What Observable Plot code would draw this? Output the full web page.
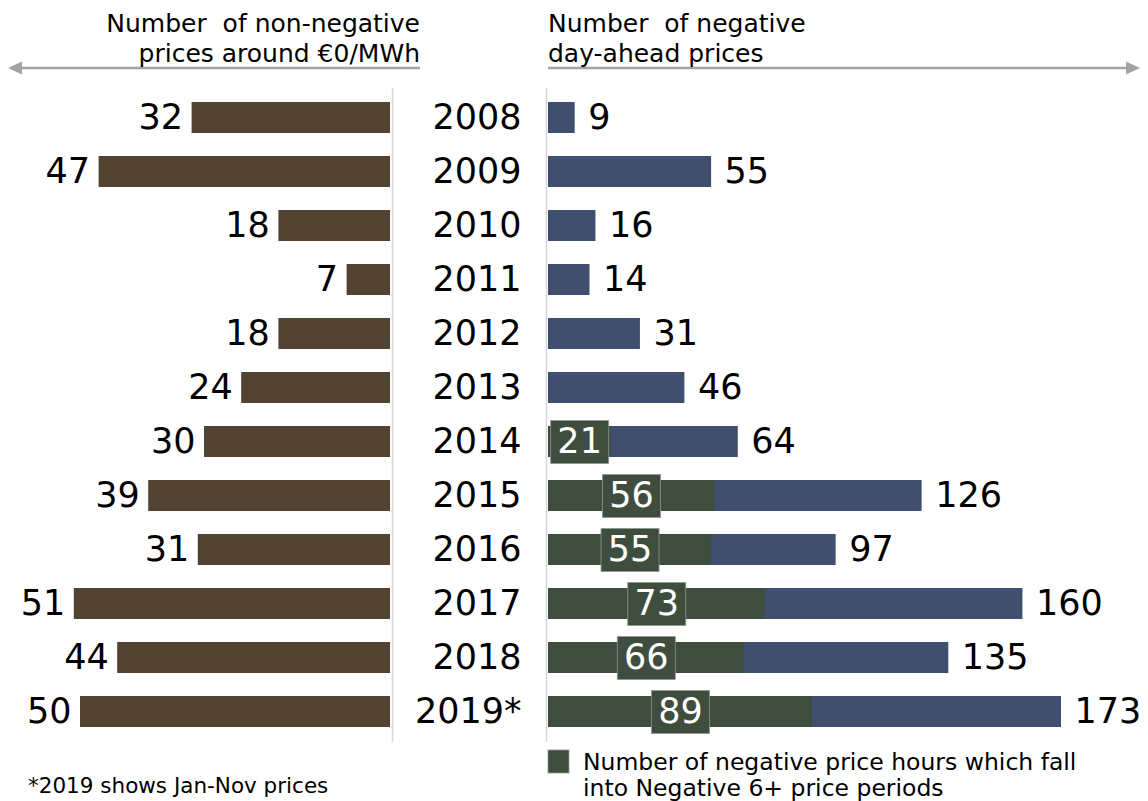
<!DOCTYPE html>
<html><head><meta charset="utf-8">
<script src="https://cdn.jsdelivr.net/npm/d3@7"></script>
<script src="https://cdn.jsdelivr.net/npm/@observablehq/plot@0.6"></script>
<style>
body{margin:0;background:#fff;font-family:"DejaVu Sans",Verdana,sans-serif;}
#wrap{position:relative;width:1148px;height:801px;overflow:hidden;background:#fff}
#wrap > svg{position:absolute;left:0;top:0}
</style></head><body><div id="wrap"></div>
<script>
// ---- data ----
const years = ["2008","2009","2010","2011","2012","2013","2014","2015","2016","2017","2018","2019*"];
const nonNegative = [32,47,18,7,18,24,30,39,31,51,44,50];
const negative = [9,55,16,14,31,46,64,126,97,160,135,173];
const negative6 = [null,null,null,null,null,null,21,56,55,73,66,89];
const leftTitle = ["Number  of non-negative","prices around €0/MWh"];
const rightTitle = ["Number  of negative","day-ahead prices"];
const legendLines = ["Number of negative price hours which fall","into Negative 6+ price periods"];
const footnote = "*2019 shows Jan-Nov prices";

const brown = "#514231", blue = "#404f6e", green = "#3f4d3e";
const font = "DejaVu Sans, Verdana, sans-serif";
const big = 35;
const rows = years.map((y,i)=>({year:y, nonNeg:nonNegative[i], neg:negative[i], neg6:negative6[i]}));
const rows6 = rows.filter(d=>d.neg6!=null);
const yOpts = {domain: years, range:[76,753], padding:0.43, axis:null};
const common = {width:1148, height:801, marginTop:88, marginBottom:59,
  style:{fontFamily:font, background:"transparent", overflow:"visible"}};

const wrap = document.getElementById("wrap");

const left = Plot.plot({...common, marginLeft:0, marginRight:0,
  x:{domain:[0,50], range:[390,80], axis:null},
  y:yOpts,
  marks:[
    Plot.ruleX([0],{dx:2, stroke:"#d6d6d6", strokeWidth:1.5}),
    Plot.barX(rows,{x:"nonNeg", y:"year", fill:brown}),
    Plot.text(rows,{x:"nonNeg", y:"year", text:d=>String(d.nonNeg), textAnchor:"end", dx:-9, fontSize:big, fill:"#000"})
  ]});
wrap.appendChild(left);

const boxSymbol = {draw(ctx){ ctx.rect(-29,-21.5,58,43); }};
const right = Plot.plot({...common, marginLeft:548, marginRight:0,
  x:{domain:[0,173], range:[548,1061], axis:null},
  y:yOpts,
  marks:[
    Plot.ruleX([0],{dx:-2, stroke:"#d6d6d6", strokeWidth:1.5}),
    Plot.axisY({anchor:"left", tickSize:0, tickPadding:27, fontSize:big, label:null, fill:"#000"}),
    Plot.barX(rows,{x:"neg", y:"year", fill:blue}),
    Plot.barX(rows6,{x:"neg6", y:"year", fill:green}),
    Plot.dot(rows6,{x:d=>d.neg6/2, y:"year", symbol:boxSymbol, fill:green, stroke:"#8c988b", strokeWidth:0.8}),
    Plot.text(rows6,{x:d=>d.neg6/2, y:"year", text:d=>String(d.neg6), fill:"#fff", fontSize:big}),
    Plot.text(rows,{x:"neg", y:"year", text:d=>String(d.neg), textAnchor:"start", dx:13, fontSize:big, fill:"#000"})
  ]});
wrap.appendChild(right);

// ---- decorations: headers, arrows, legend, footnote ----
const svg = d3.select(wrap).append("svg").attr("width",1148).attr("height",801)
  .style("font-family",font);
const g = "#a3a3a3";
svg.append("line").attr("x1",420).attr("x2",20).attr("y1",68).attr("y2",68).attr("stroke",g).attr("stroke-width",2.5);
svg.append("path").attr("d","M8,68L22,61.5L22,74.5Z").attr("fill",g);
svg.append("line").attr("x1",548).attr("x2",1126).attr("y1",68).attr("y2",68).attr("stroke",g).attr("stroke-width",2.5);
svg.append("path").attr("d","M1140,68L1126,61.5L1126,74.5Z").attr("fill",g);
leftTitle.forEach((t,i)=>svg.append("text").attr("x",420).attr("y",32+i*30).attr("text-anchor","end")
  .attr("font-size",25).style("white-space","pre").attr("xml:space","preserve").text(t));
rightTitle.forEach((t,i)=>svg.append("text").attr("x",548).attr("y",32+i*30)
  .attr("font-size",25).style("white-space","pre").attr("xml:space","preserve").text(t));
svg.append("rect").attr("x",548).attr("y",750).attr("width",21).attr("height",23).attr("fill",green).attr("stroke","#8c988b").attr("stroke-width",0.8);
legendLines.forEach((t,i)=>svg.append("text").attr("x",583).attr("y",770+i*26).attr("font-size",23.5).text(t));
svg.append("text").attr("x",28).attr("y",793).attr("font-size",21.5).text(footnote);
</script></body></html>
